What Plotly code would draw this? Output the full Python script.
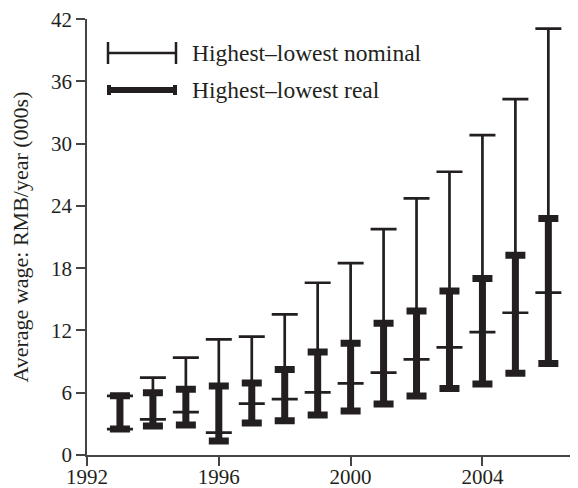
import plotly.graph_objects as go

years = [1993, 1994, 1995, 1996, 1997, 1998, 1999, 2000, 2001, 2002, 2003, 2004, 2005, 2006]
nominal_high = [5.7, 7.45, 9.38, 11.14, 11.4, 13.55, 16.6, 18.5, 21.77, 24.73, 27.3, 30.83, 34.3, 41.1]
nominal_low = [2.5, 3.44, 4.14, 2.15, 4.95, 5.39, 6.04, 6.9, 7.93, 9.22, 10.37, 11.85, 13.71, 15.64]
real_high = [5.7, 6.0, 6.33, 6.65, 6.94, 8.25, 9.92, 10.76, 12.69, 13.87, 15.8, 17.02, 19.24, 22.8]
real_low = [2.5, 2.8, 2.89, 1.35, 3.08, 3.31, 3.85, 4.24, 4.91, 5.68, 6.42, 6.84, 7.87, 8.83]

y_ticks = [0, 6, 12, 18, 24, 30, 36, 42]
x_ticks = [1992, 1996, 2000, 2004]

legend_labels = ["Highest\u2013lowest nominal", "Highest\u2013lowest real"]

INK = "#231f20"
AXIS = "#444444"
FONT = "Liberation Serif"

W, H = 578, 488
OFF = 8  # page body margin
ML, MR, MT, MB = 79, 8, 11, 41

def mid(h, l):
    return [(a + b) / 2 for a, b in zip(h, l)]

def half(h, l):
    return [(a - b) / 2 for a, b in zip(h, l)]

fig = go.Figure()

fig.add_trace(go.Scatter(
    x=years, y=mid(real_high, real_low), mode="markers",
    marker=dict(size=1, opacity=0),
    error_y=dict(type="data", array=half(real_high, real_low), symmetric=True,
                 color=INK, thickness=7, width=10),
    showlegend=False, hoverinfo="skip"))

fig.add_trace(go.Scatter(
    x=years, y=mid(nominal_high, nominal_low), mode="markers",
    marker=dict(size=1, opacity=0),
    error_y=dict(type="data", array=half(nominal_high, nominal_low), symmetric=True,
                 color=INK, thickness=2.7, width=13),
    showlegend=False, hoverinfo="skip"))

# legend key (paper coordinates relative to plot area; inputs are window pixels)
PW = W - ML - MR
PH = H - MT - MB
def px(x):
    return (x - OFF - ML) / PW
def py(y):
    return 1 - (y - OFF - MT) / PH

shapes = [
    dict(type="line", xref="paper", yref="paper", x0=px(108), x1=px(176), y0=py(53), y1=py(53),
         line=dict(color=INK, width=2.5)),
    dict(type="line", xref="paper", yref="paper", x0=px(108), x1=px(108), y0=py(42), y1=py(64),
         line=dict(color=INK, width=2.5)),
    dict(type="line", xref="paper", yref="paper", x0=px(176), x1=px(176), y0=py(42), y1=py(64),
         line=dict(color=INK, width=2.5)),
    dict(type="line", xref="paper", yref="paper", x0=px(108), x1=px(176), y0=py(90), y1=py(90),
         line=dict(color=INK, width=6)),
    dict(type="line", xref="paper", yref="paper", x0=px(109), x1=px(109), y0=py(85), y1=py(95),
         line=dict(color=INK, width=4)),
    dict(type="line", xref="paper", yref="paper", x0=px(175), x1=px(175), y0=py(85), y1=py(95),
         line=dict(color=INK, width=4)),
]

annotations = [
    dict(xref="paper", yref="paper", x=px(190), y=py(53), text=legend_labels[0], showarrow=False,
         xanchor="left", yanchor="middle", font=dict(family=FONT, size=23.5, color=INK)),
    dict(xref="paper", yref="paper", x=px(190), y=py(90), text=legend_labels[1], showarrow=False,
         xanchor="left", yanchor="middle", font=dict(family=FONT, size=23.5, color=INK)),
]

fig.update_layout(
    width=W, height=H,
    margin=dict(l=ML, r=MR, t=MT, b=MB),
    paper_bgcolor="white", plot_bgcolor="white",
    font=dict(family=FONT, size=21, color=INK),
    shapes=shapes, annotations=annotations,
    showlegend=False,
)
fig.update_xaxes(range=[1992, 2006.9], tickvals=x_ticks, ticktext=[str(v) for v in x_ticks],
                 showgrid=False, zeroline=False, showline=True, linecolor=AXIS, linewidth=1.5,
                 ticks="outside", ticklen=9, tickwidth=1.5, tickcolor=AXIS, automargin=False,
                 ticklabelstandoff=-7, ticklabeloverflow="allow",
                 tickfont=dict(family=FONT, size=21, color=INK))
fig.update_yaxes(range=[0, 42.02], tickvals=y_ticks, ticktext=[str(v) for v in y_ticks],
                 showgrid=False, zeroline=False, showline=True, linecolor=AXIS, linewidth=1.5,
                 ticks="outside", ticklen=9, tickwidth=1.5, tickcolor=AXIS, automargin=False,
                 ticklabeloverflow="allow",
                 tickfont=dict(family=FONT, size=21, color=INK),
                 title=dict(text="Average wage: RMB/year (000s)", font=dict(family=FONT, size=22, color=INK),
                            standoff=16))

fig.write_html("out.html")
